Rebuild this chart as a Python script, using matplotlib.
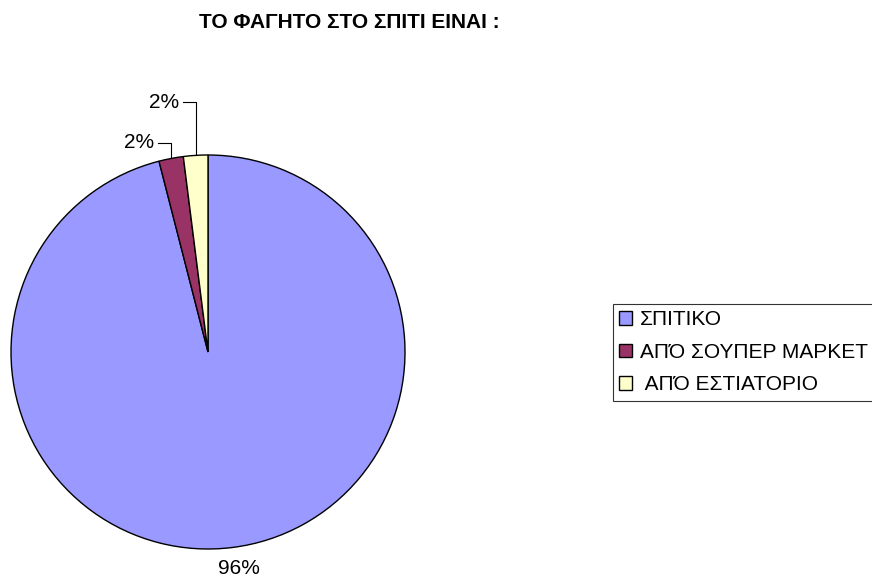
import numpy as np
import matplotlib.pyplot as plt

# Food at home survey
labels = ["ΣΠΙΤΙΚΟ", "ΑΠΌ ΣΟΥΠΕΡ ΜΑΡΚΕΤ", " ΑΠΌ ΕΣΤΙΑΤΟΡΙΟ"]
shares = [96, 2, 2]
colors = ["#9999FF", "#993366", "#FFFFCC"]
title = "ΤΟ ΦΑΓΗΤΟ ΣΤΟ ΣΠΙΤΙ ΕΙΝΑΙ :"

plt.rcParams['font.family'] = ['Liberation Sans', 'DejaVu Sans']

W, H = 872, 578
fig = plt.figure(figsize=(W / 100, H / 100), dpi=100)

# pie axes: centre (208, 352), radius 197 px
cx, cy, r = 208, 352, 197
ax = fig.add_axes([(cx - r) / W, (H - cy - r) / H, 2 * r / W, 2 * r / H])

wedges, _ = ax.pie(shares, colors=colors, startangle=90, counterclock=False,
                   radius=1, wedgeprops=dict(edgecolor='black', linewidth=1.0))
ax.set_xlim(-1, 1)
ax.set_ylim(-1, 1)
ax.axis('off')

fs = 15
# label heights (data units) for the small slices
label_r = {1: 1.061, 2: 1.269}
for i, (w, v) in enumerate(zip(wedges, shares)):
    mid = np.deg2rad((w.theta1 + w.theta2) / 2)
    x0, y0 = np.cos(mid), np.sin(mid)
    txt = f"{v}%"
    if i in label_r:
        yl = label_r[i]
        ax.plot([x0 - 0.066, x0, x0], [yl, yl, y0], color='black', lw=0.8,
                clip_on=False)
        ax.text(x0 - 0.085, yl, txt, ha='right', va='center', fontsize=fs,
                clip_on=False)
    else:
        ax.text(1.11 * x0 + 0.02, 1.11 * y0, txt, ha='center', va='center',
                fontsize=fs, clip_on=False)

fig.text(349 / W, 1 - 22.5 / H, title, ha='center', va='center',
         fontsize=fs, fontweight='bold')

leg = fig.legend(wedges, labels, loc='upper left',
                 bbox_to_anchor=(613 / W, 1 - 304 / H), fontsize=fs,
                 frameon=True, fancybox=False, borderpad=0.3,
                 handlelength=0.6, handleheight=0.6, handletextpad=0.4,
                 labelspacing=0.65, borderaxespad=0)
leg.get_frame().set_edgecolor('black')
leg.get_frame().set_linewidth(0.8)

fig.savefig("out.png", dpi=100)
